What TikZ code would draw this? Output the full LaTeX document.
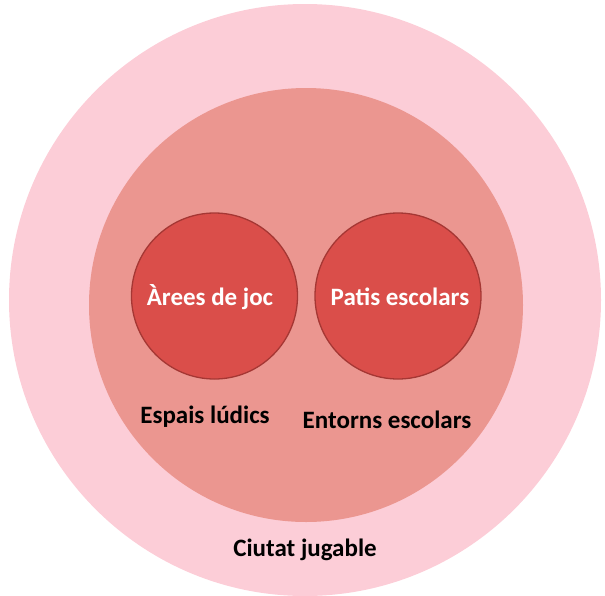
\documentclass[tikz,border=0pt]{standalone}
\usepackage{fontspec}
\setmainfont{Carlito}
\definecolor{outerpink}{HTML}{FCCDD7}
\definecolor{midpink}{HTML}{EB9690}
\definecolor{innerred}{HTML}{DA4E4A}
\definecolor{innerborder}{HTML}{A53734}
\begin{document}
\begin{tikzpicture}[x=1pt,y=-1pt,
  ring/.style={circle,inner sep=0pt,outer sep=0pt},
  inner/.style={ring,fill=innerred,draw=innerborder,line width=1.3pt,minimum size=166pt},
  lab/.style={font=\bfseries\fontsize{25}{28}\selectfont,inner sep=0pt},
  wlab/.style={lab,text=white}]
\useasboundingbox (0,0) rectangle (605,595);
\clip (0,0) rectangle (605,595);
\node[ring,fill=outerpink,minimum size=592pt] (city) at (305,300) {};
\node[ring,fill=midpink,minimum size=434pt] (school) at (306,305) {};
\node[inner] (play) at (214.5,296) {};
\node[inner] (patis) at (398,296) {};
\node[wlab] (tplay) at (210,297) {Àrees de joc};
\node[wlab] (tpatis) at (400,297) {Patis escolars};
\node[lab] (ludics) at (205,417) {Espais lúdics};
\node[lab] (entorns) at (387,420) {Entorns escolars};
\node[lab] (ciutat) at (305,550) {Ciutat jugable};
\end{tikzpicture}
\end{document}
